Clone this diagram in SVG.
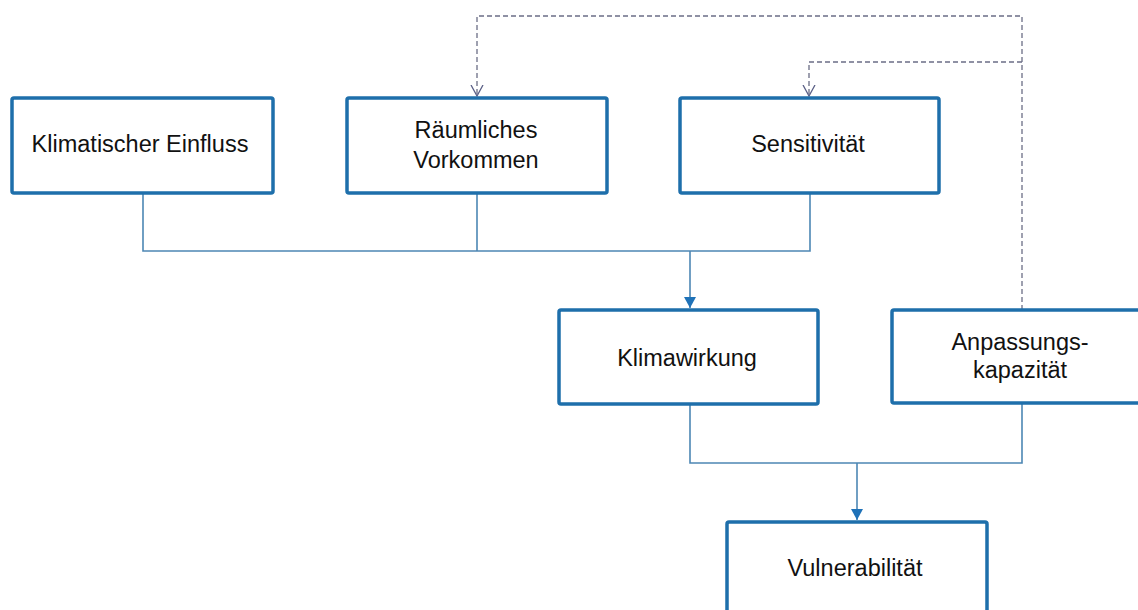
<svg xmlns="http://www.w3.org/2000/svg" width="1138" height="610" viewBox="0 0 1138 610">
<style>
.box{fill:#fff;stroke:#1e6fab;stroke-width:3.5}
.lbl{font-family:"Liberation Sans",Arial,sans-serif;font-size:23.5px;fill:#111;text-anchor:middle}
.conn{fill:none;stroke:#4d87b4;stroke-width:1.6}
.dash{fill:none;stroke:#6b6e86;stroke-width:1.3;stroke-dasharray:5,3}
</style>
<defs>
<marker id="tri" markerWidth="12" markerHeight="12" refX="11" refY="6" orient="auto" markerUnits="userSpaceOnUse">
<path d="M0,0 L11,6 L0,12 Z" fill="#1f72b8"/>
</marker>
<marker id="vee" markerWidth="12" markerHeight="14" refX="11" refY="7" orient="auto" markerUnits="userSpaceOnUse">
<path d="M0,1 L11,7 L0,13" fill="none" stroke="#5a5f86" stroke-width="1.3"/>
</marker>
</defs>
<rect width="1138" height="610" fill="#fff"/>
<g id="connectors">
<path class="conn" d="M143,193 V251 H810 V193 M477,193 V251"/>
<path class="conn" d="M690,251 V308" marker-end="url(#tri)"/>
<path class="conn" d="M690,404 V463 H1022 V404"/>
<path class="conn" d="M857,463 V520" marker-end="url(#tri)"/>
<path class="dash" d="M1022,310 V16 H477 V96" marker-end="url(#vee)"/>
<path class="dash" d="M1022,62 H809 V96" marker-end="url(#vee)"/>
</g>
<g id="klimatischer-einfluss">
<rect class="box" x="12" y="98" width="261" height="95" rx="2"/>
<text class="lbl" x="140" y="152">Klimatischer Einfluss</text>
</g>
<g id="raeumliches-vorkommen">
<rect class="box" x="347" y="98" width="260" height="95" rx="2"/>
<text class="lbl" x="476" y="138">Räumliches</text>
<text class="lbl" x="476" y="168">Vorkommen</text>
</g>
<g id="sensitivitaet">
<rect class="box" x="680" y="98" width="259" height="95" rx="2"/>
<text class="lbl" x="808" y="152">Sensitivität</text>
</g>
<g id="klimawirkung">
<rect class="box" x="559" y="310" width="259" height="94" rx="2"/>
<text class="lbl" x="687" y="366">Klimawirkung</text>
</g>
<g id="anpassungskapazitaet">
<rect class="box" x="892" y="310" width="256" height="93" rx="2"/>
<text class="lbl" x="1020" y="350">Anpassungs-</text>
<text class="lbl" x="1020" y="378">kapazität</text>
</g>
<g id="vulnerabilitaet">
<rect class="box" x="727" y="522" width="260" height="95" rx="2"/>
<text class="lbl" x="855" y="576">Vulnerabilität</text>
</g>
</svg>
